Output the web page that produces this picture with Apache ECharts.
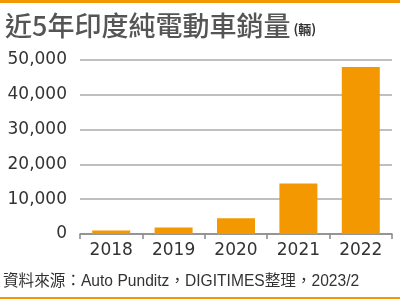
<!DOCTYPE html>
<html>
<head>
<meta charset="utf-8">
<script src="https://cdn.jsdelivr.net/npm/echarts@6/dist/echarts.min.js"></script>
<style>
html, body { margin: 0; padding: 0; background: #fff; }
#container { width: 400px; height: 300px; }
</style>
</head>
<body>
<div id="container"></div>
<script>
// 年份和銷量 (輛)
var years = ['2018', '2019', '2020', '2021', '2022']
var sales = [1000, 1900, 4500, 14500, 48000]
var yTicks = [0, 10000, 20000, 30000, 40000, 50000]

var orange = '#F39800'
var dom = document.getElementById('container')
var myChart = echarts.init(dom, null, { renderer: 'canvas' })

var option = {
    animation: false,
    title: {
        left: 0,
        top: 7,
        text: '{a|近5年印度純電動車銷量}{b|(輛)}',
        textStyle: {
            rich: {
                a: { fontFamily: 'Noto Sans CJK TC', fontSize: 27, color: '#555', fontWeight: 500 },
                b: { fontFamily: 'Noto Sans CJK TC', fontSize: 13, color: '#333', padding: [8, 0, 0, 3] }
            }
        }
    },
    graphic: [
        { type: 'rect', left: 0, top: 0, shape: { width: 400, height: 3 }, style: { fill: orange } },
        { type: 'rect', left: 0, top: 297, shape: { width: 400, height: 2 }, style: { fill: orange } },
        {
            type: 'text', left: 3, top: 274,
            style: {
                text: '資料來源：Auto Punditz，DIGITIMES整理，2023/2',
                font: '15.6px "Liberation Sans", "Noto Sans CJK TC"',
                fill: '#333'
            }
        }
    ],
    grid: { left: 80, right: 8, top: 60, bottom: 66 },
    xAxis: {
        type: 'category',
        data: years,
        axisLine: { lineStyle: { color: '#888', width: 1.5 } },
        axisTick: { show: true, length: 5, lineStyle: { color: '#888', width: 1.5 } },
        axisLabel: { fontFamily: 'DejaVu Sans', fontSize: 17, color: '#333', margin: 8 }
    },
    yAxis: {
        type: 'value',
        min: yTicks[0],
        max: yTicks[yTicks.length - 1],
        interval: 10000,
        axisLine: { show: false },
        axisTick: { show: false },
        splitLine: { lineStyle: { color: '#aaa', width: 1.5 } },
        axisLabel: {
            fontFamily: 'DejaVu Sans', fontSize: 17, color: '#333', margin: 13,
            formatter: function (v) { return v.toLocaleString('en-US') }
        }
    },
    series: [{
        type: 'bar',
        data: sales,
        barWidth: 38,
        itemStyle: { color: orange }
    }]
}

myChart.setOption(option)
window.addEventListener('resize', myChart.resize)
</script>
</body>
</html>
